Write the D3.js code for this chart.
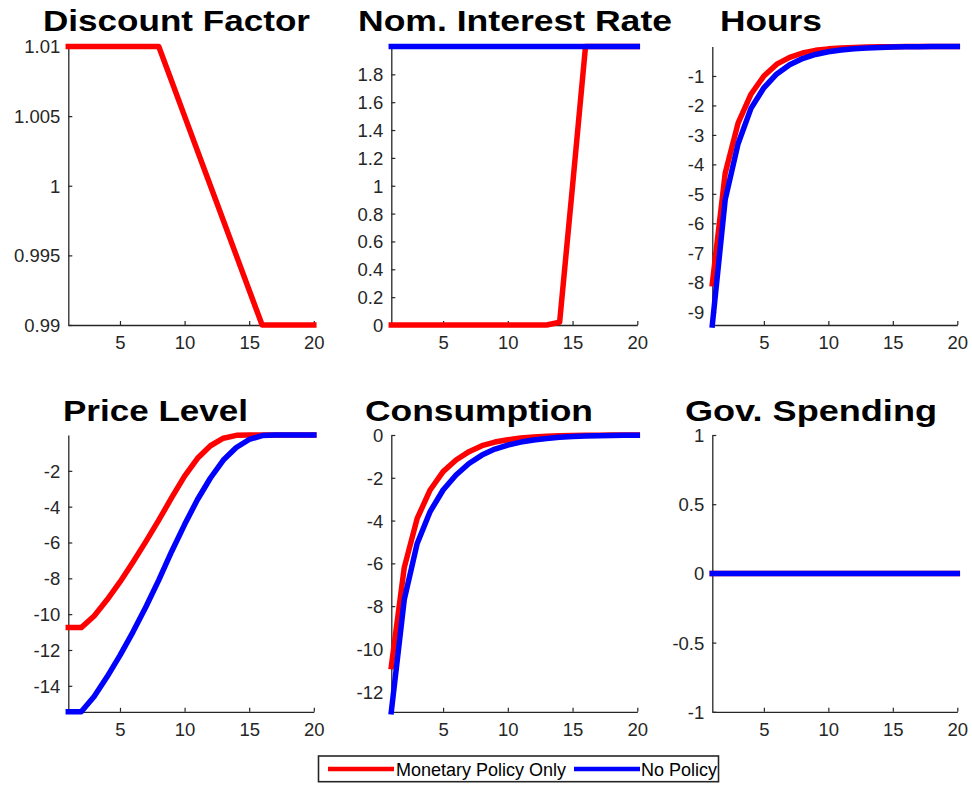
<!DOCTYPE html>
<html>
<head>
<meta charset="utf-8">
<script src="https://cdn.jsdelivr.net/npm/d3@7"></script>
<style>
  html, body { margin: 0; padding: 0; background: #ffffff; }
  svg { display: block; font-family: "Liberation Sans", Arial, Helvetica, sans-serif; }
</style>
</head>
<body>
<svg id="chart" width="972" height="788"></svg>
<script>
// ---- data -------------------------------------------------------------
const periods = [1, 2, 3, 4, 5, 6, 7, 8, 9, 10, 11, 12, 13, 14, 15, 16, 17, 18, 19, 20];
const seriesNames = ["Monetary Policy Only", "No Policy"];
const seriesColors = ["#ff0000", "#0000ff"];
const panelTitles = ["Discount Factor", "Nom. Interest Rate", "Hours",
                     "Price Level", "Consumption", "Gov. Spending"];

// discount factor shock (common to both scenarios)
const discountFactor = [1.01, 1.01, 1.01, 1.01, 1.01, 1.01, 1.01, 1.01, 1.0075, 1.005,
                        1.0025, 1.0, 0.9975, 0.995, 0.9925, 0.99, 0.99, 0.99, 0.99, 0.99];

const rateMonetary = [0, 0, 0, 0, 0, 0, 0, 0, 0, 0, 0, 0, 0, 0.02, 1.0, 2, 2, 2, 2, 2];
const rateNoPolicy = [2, 2, 2, 2, 2, 2, 2, 2, 2, 2, 2, 2, 2, 2, 2, 2, 2, 2, 2, 2];

const hoursMonetary = [-8.05, -4.3, -2.6, -1.62, -1.0, -0.6, -0.37, -0.22, -0.13, -0.08,
                       -0.05, -0.03, -0.02, -0.01, -0.005, 0, 0, 0, 0, 0];
const hoursNoPolicy = [-9.45, -5.2, -3.3, -2.1, -1.4, -0.93, -0.62, -0.41, -0.27, -0.18,
                       -0.12, -0.08, -0.05, -0.03, -0.02, -0.01, -0.01, 0, 0, 0];

const priceMonetary = [-10.75, -10.75, -10.1, -9.2, -8.2, -7.1, -5.95, -4.75, -3.5, -2.3,
                       -1.3, -0.6, -0.18, -0.02, 0, 0, 0, 0, 0, 0];
const priceNoPolicy = [-15.45, -15.45, -14.6, -13.5, -12.3, -11.0, -9.6, -8.1, -6.5, -5.0,
                       -3.6, -2.4, -1.4, -0.7, -0.25, -0.03, 0, 0, 0, 0];

const consMonetary = [-10.83, -6.2, -3.9, -2.57, -1.71, -1.17, -0.78, -0.5, -0.33, -0.22,
                      -0.14, -0.09, -0.06, -0.04, -0.02, -0.01, -0.01, 0, 0, 0];
const consNoPolicy = [-12.94, -7.7, -5.07, -3.58, -2.57, -1.87, -1.33, -0.94, -0.66, -0.47,
                      -0.33, -0.23, -0.16, -0.11, -0.07, -0.05, -0.03, -0.02, -0.01, -0.01];

const govMonetary = [0, 0, 0, 0, 0, 0, 0, 0, 0, 0, 0, 0, 0, 0, 0, 0, 0, 0, 0, 0];
const govNoPolicy = [0, 0, 0, 0, 0, 0, 0, 0, 0, 0, 0, 0, 0, 0, 0, 0, 0, 0, 0, 0];

// axis limits and tick labels
const xLimits = [1, 20];
const xTicks = [5, 10, 15, 20];
const yLimits = [[0.99, 1.01], [0, 2], [-9.45, 0], [-15.45, 0], [-12.94, 0], [-1, 1]];
const yTicks = [
  [0.99, 0.995, 1, 1.005, 1.01],
  [0, 0.2, 0.4, 0.6, 0.8, 1, 1.2, 1.4, 1.6, 1.8],
  [-9, -8, -7, -6, -5, -4, -3, -2, -1],
  [-14, -12, -10, -8, -6, -4, -2],
  [-12, -10, -8, -6, -4, -2, 0],
  [-1, -0.5, 0, 0.5, 1]
];

// which series appear in each panel (index into seriesNames / seriesColors)
const panelLines = [
  [[discountFactor, 0]],
  [[rateMonetary, 0], [rateNoPolicy, 1]],
  [[hoursMonetary, 0], [hoursNoPolicy, 1]],
  [[priceMonetary, 0], [priceNoPolicy, 1]],
  [[consMonetary, 0], [consNoPolicy, 1]],
  [[govMonetary, 0], [govNoPolicy, 1]]
];

// ---- layout -----------------------------------------------------------
const colRange = [[68.3, 313.8], [391.3, 637.3], [712.3, 957.3]];
const rowRange = [[325, 46.5], [711.8, 435]];
// title placement: left x, rendered width, baseline y
const titleLayout = [[43, 267, 31], [358, 314, 31], [720, 102, 31],
                     [63, 185, 421], [365, 228, 421], [685, 252, 421]];

const axisColor = "#262626";
const fmt = v => String(v);

const svg = d3.select("#chart");

panelTitles.forEach((title, i) => {
  const col = i % 3, row = Math.floor(i / 3);
  const x = d3.scaleLinear().domain(xLimits).range(colRange[col]);
  const y = d3.scaleLinear().domain(yLimits[i]).range(rowRange[row]);
  const g = svg.append("g").attr("class", "panel");

  // axes (ticks point inward)
  const gx = g.append("g")
    .attr("transform", `translate(0,${rowRange[row][0]})`)
    .call(d3.axisBottom(x).tickValues(xTicks).tickFormat(fmt)
      .tickSizeInner(-4).tickSizeOuter(0).tickPadding(11));
  const gy = g.append("g")
    .attr("transform", `translate(${colRange[col][0]},0)`)
    .call(d3.axisLeft(y).tickValues(yTicks[i]).tickFormat(fmt)
      .tickSizeInner(-4).tickSizeOuter(0).tickPadding(8));

  [gx, gy].forEach(a => {
    a.attr("font-family", null).attr("font-size", null);
    a.select(".domain").attr("stroke", axisColor).attr("stroke-width", 1.3);
    a.selectAll(".tick line").attr("stroke", axisColor).attr("stroke-width", 1.2);
    a.selectAll(".tick text")
      .attr("fill", axisColor)
      .style("font-size", "18.5px")
      .style("font-family", '"Liberation Sans", Arial, sans-serif');
  });
  gy.selectAll(".tick text").attr("dy", "0.35em");

  // series lines
  const line = d3.line()
    .x((d, k) => x(periods[k]))
    .y(d => y(d));
  panelLines[i].forEach(([values, s]) => {
    g.append("path")
      .datum(values)
      .attr("d", line)
      .attr("fill", "none")
      .attr("stroke", seriesColors[s])
      .attr("stroke-width", 5.5)
      .attr("stroke-linejoin", "round")
      .attr("stroke-linecap", "square");
  });

  // title
  const [tx, tw, ty] = titleLayout[i];
  g.append("text")
    .attr("x", tx)
    .attr("y", ty)
    .attr("textLength", tw)
    .attr("lengthAdjust", "spacingAndGlyphs")
    .style("font-size", "30px")
    .style("font-weight", "bold")
    .attr("fill", "#000000")
    .text(title);
});

// ---- legend -----------------------------------------------------------
const legend = svg.append("g").attr("class", "legend");
legend.append("rect")
  .attr("x", 318.5).attr("y", 756)
  .attr("width", 400).attr("height", 25.7)
  .attr("fill", "#ffffff")
  .attr("stroke", axisColor)
  .attr("stroke-width", 1.6);

const legendItems = [[328, 394, 396], [574, 640, 641]];
seriesNames.forEach((name, s) => {
  const [x0, x1, tx] = legendItems[s];
  legend.append("line")
    .attr("x1", x0).attr("x2", x1)
    .attr("y1", 769).attr("y2", 769)
    .attr("stroke", seriesColors[s])
    .attr("stroke-width", 4.7);
  legend.append("text")
    .attr("x", tx).attr("y", 775.5)
    .style("font-size", "18px")
    .attr("fill", "#000000")
    .text(name);
});
</script>
</body>
</html>
